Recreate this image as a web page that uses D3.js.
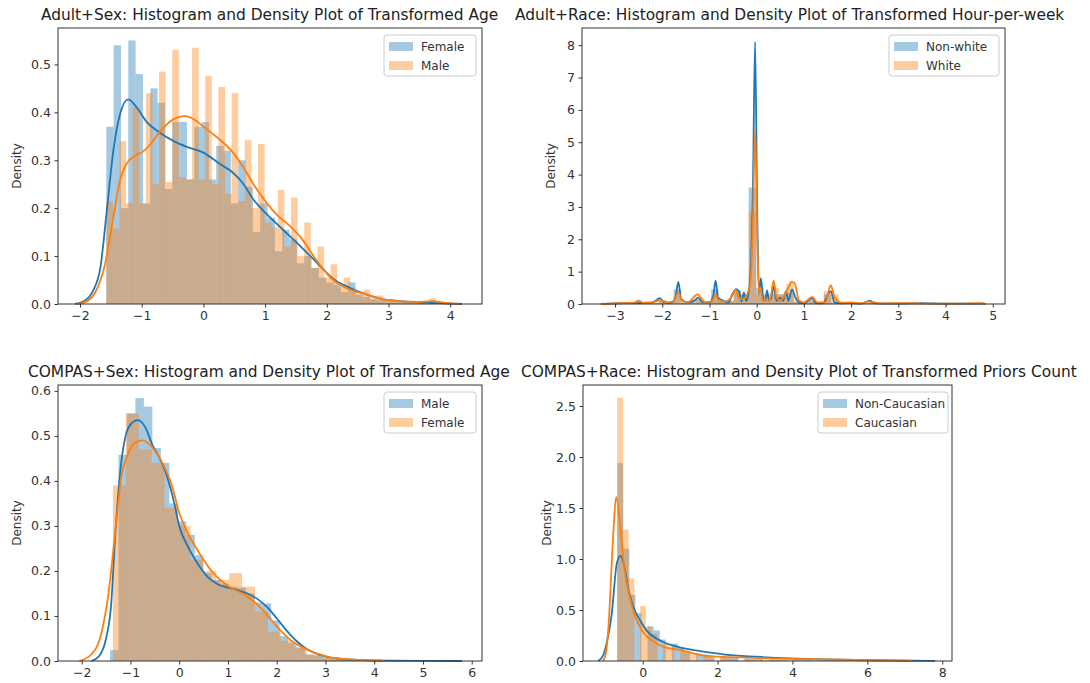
<!DOCTYPE html>
<html lang="en">
<head>
<meta charset="utf-8">
<title>histogram and density plots</title>
<script src="https://d3js.org/d3.v7.min.js"></script>
<style>
  body{margin:0;background:#fff;font-family:"DejaVu Sans",sans-serif;}
  .axis text{font-family:"DejaVu Sans",sans-serif;font-size:12.5px;fill:#333;}
  .axis path,.axis line{stroke:#333;}
  .title{font-size:15.4px;fill:#222;}
  .ylabel{font-size:12px;fill:#333;}
  .legend text{font-size:12px;fill:#333;}
</style>
</head>
<body>
<div id="chart"></div>
<script>
// ---- Adult + Sex : transformed age ----
var adultSexFemaleStart = -1.574, adultSexFemaleWidth = 0.1188
var adultSexFemaleHist = [0.37,0.54,0.2,0.55,0.48,0.21,0.45,0.42,0.24,0.38,
  0.38,0.26,0.37,0.38,0.26,0.33,0.32,0.21,0.30,0.245,
  0.15,0.21,0.18,0.11,0.155,0.135,0.085,0.10,0.075,0.055,
  0.045,0.04,0.025,0.045,0.02,0.015,0.01,0.008,0.006,0.004,
  0.004,0.002,0.003,0.002,0.002]
var adultSexMaleStart = -1.574, adultSexMaleWidth = 0.1069
var adultSexMaleHist = [0.214,0.157,0.34,0.21,0.41,0.21,0.44,0.25,0.485,0.255,
  0.53,0.265,0.26,0.535,0.26,0.476,0.25,0.453,0.23,0.44,
  0.215,0.342,0.2,0.334,0.17,0.16,0.238,0.12,0.222,0.1,
  0.17,0.075,0.12,0.055,0.083,0.035,0.055,0.025,0.02,0.03,
  0.012,0.018,0.008,0.01,0.004,0.006,0.003,0.004,0.002,0.012]
var adultSexFemaleKde = [[-2.08,0],[-1.95,0.005],[-1.85,0.015],[-1.78,0.03],[-1.67,0.076],[-1.57,0.19],[-1.46,0.32],
  [-1.35,0.397],[-1.22,0.427],[-1.08,0.41],[-0.92,0.38],[-0.70,0.357],[-0.48,0.34],[-0.27,0.328],[0.0,0.316],
  [0.27,0.292],[0.48,0.274],[0.64,0.252],[0.81,0.218],[1.03,0.187],[1.29,0.155],[1.57,0.121],[1.84,0.086],
  [2.1,0.053],[2.37,0.034],[2.64,0.02],[2.9,0.01],[3.2,0.006],[3.45,0.004],[3.8,0.002],[4.19,0]]
var adultSexMaleKde = [[-2.05,0],[-1.9,0.005],[-1.75,0.025],[-1.6,0.08],[-1.5,0.15],[-1.35,0.26],[-1.24,0.294],
  [-1.1,0.31],[-0.98,0.318],[-0.85,0.335],[-0.72,0.357],[-0.55,0.38],[-0.3,0.392],[-0.15,0.385],[0.0,0.37],
  [0.2,0.35],[0.48,0.316],[0.65,0.285],[0.81,0.25],[1.03,0.21],[1.2,0.185],[1.4,0.163],[1.57,0.14],[1.84,0.09],
  [2.1,0.05],[2.37,0.03],[2.64,0.02],[2.9,0.01],[3.2,0.006],[3.45,0.004],[3.7,0.006],[3.9,0.003],[4.15,0]]

// ---- Adult + Race : transformed hours-per-week ----
var adultRaceStart = -3.19, adultRaceWidth = 0.159
var adultRaceNonWhiteHist = [0.01,0.01,0.02,0.01,0.03,0.02,0.02,0.12,0.04,0.45,
  0.05,0.04,0.12,0.05,0.45,0.08,0.1,0.42,0.3,3.6,
  0.5,0.3,0.3,0.3,0.35,0.05,0.04,0.1,0.03,0.3,
  0.03,0.02,0.02,0.01,0.02,0.06,0.01,0.01,0.01,0.02,
  0.01,0.01,0.01,0.01,0.01,0.01,0.005,0.005,0.005,0.01]
var adultRaceWhiteHist = [0.01,0.01,0.02,0.02,0.06,0.03,0.03,0.1,0.05,0.25,
  0.06,0.08,0.2,0.06,0.25,0.06,0.1,0.35,0.25,2.86,
  0.3,0.12,0.5,0.3,0.62,0.1,0.05,0.15,0.05,0.4,
  0.3,0.03,0.02,0.02,0.03,0.06,0.02,0.01,0.01,0.02,
  0.02,0.01,0.01,0.01,0.01,0.01,0.01,0.01,0.01,0.02]
var adultRaceNonWhiteKde = [[-3.3,0],[-3.0,0.02],[-2.5,0.03],[-2.2,0.05],[-2.05,0.18],[-1.95,0.04],[-1.8,0.05],
  [-1.72,0.2],[-1.66,0.68],[-1.6,0.15],[-1.45,0.05],[-1.3,0.12],[-1.24,0.2],[-1.15,0.06],[-1.0,0.05],
  [-0.92,0.25],[-0.87,0.72],[-0.82,0.2],[-0.7,0.1],[-0.6,0.05],[-0.5,0.35],[-0.44,0.46],[-0.38,0.4],
  [-0.32,0.08],[-0.27,0.35],[-0.22,0.1],[-0.15,0.6],[-0.08,3.5],[-0.034,8.1],[0.01,3],[0.05,0.3],[0.09,0.8],
  [0.13,0.25],[0.18,0.1],[0.22,0.42],[0.26,0.1],[0.3,0.15],[0.36,0.55],[0.42,0.1],[0.5,0.2],[0.56,0.1],
  [0.62,0.4],[0.67,0.1],[0.75,0.45],[0.82,0.2],[0.9,0.05],[1.0,0.02],[1.18,0.18],[1.25,0.03],[1.4,0.02],
  [1.57,0.4],[1.65,0.05],[1.8,0.02],[2.0,0.03],[2.2,0.01],[2.4,0.1],[2.5,0.02],[3.0,0.01],[3.5,0.03],
  [4.0,0.01],[4.8,0.01],[4.85,0]]
var adultRaceWhiteKde = [[-3.3,0],[-3.0,0.02],[-2.6,0.04],[-2.5,0.1],[-2.4,0.04],[-2.2,0.05],[-2.05,0.12],
  [-1.9,0.05],[-1.75,0.1],[-1.66,0.35],[-1.58,0.1],[-1.45,0.06],[-1.25,0.3],[-1.1,0.06],[-0.95,0.08],
  [-0.87,0.3],[-0.8,0.08],[-0.65,0.08],[-0.5,0.3],[-0.45,0.45],[-0.38,0.2],[-0.3,0.15],[-0.15,0.5],
  [-0.08,2.5],[-0.034,5.4],[0.01,2.2],[0.05,0.3],[0.08,0.5],[0.13,0.1],[0.2,0.15],[0.28,0.1],[0.36,0.72],
  [0.42,0.2],[0.5,0.1],[0.62,0.35],[0.7,0.6],[0.73,0.68],[0.8,0.65],[0.9,0.1],[1.0,0.05],[1.18,0.22],
  [1.28,0.05],[1.45,0.05],[1.57,0.58],[1.65,0.2],[1.8,0.04],[2.0,0.05],[2.2,0.02],[2.4,0.08],[2.6,0.02],
  [3.2,0.03],[3.6,0.01],[4.2,0.01],[4.75,0.03],[4.85,0]]

// ---- COMPAS + Sex : transformed age ----
var compasSexMaleStart = -1.42, compasSexMaleWidth = 0.174
var compasSexMaleHist = [0.024,0.458,0.55,0.584,0.565,0.473,0.44,0.35,0.31,0.28,
  0.235,0.195,0.18,0.172,0.165,0.163,0.15,0.13,0.128,0.09,
  0.055,0.04,0.03,0.015,0.012,0.008,0.005,0.003,0.002,0.002,
  0.001,0.001,0.001,0.0005,0.0005,0.0005,0.0005,0.0005,0.0005,0.0005,0.0005]
var compasSexFemaleStart = -1.36, compasSexFemaleWidth = 0.265
var compasSexFemaleHist = [0.39,0.55,0.47,0.44,0.34,0.30,0.225,0.20,0.18,0.195,
  0.165,0.11,0.065,0.045,0.03,0.014,0.008,0.004,0.003,0.002,0.001]
var compasSexMaleKde = [[-1.8,0],[-1.65,0.01],[-1.5,0.05],[-1.4,0.12],[-1.3,0.3],[-1.2,0.43],[-1.1,0.5],
  [-1.0,0.525],[-0.85,0.535],[-0.7,0.52],[-0.55,0.48],[-0.4,0.45],[-0.25,0.41],[-0.1,0.35],[0.0,0.3],
  [0.15,0.26],[0.3,0.23],[0.45,0.205],[0.6,0.185],[0.8,0.17],[1.0,0.163],[1.2,0.157],[1.4,0.15],[1.6,0.138],
  [1.8,0.12],[2.0,0.095],[2.2,0.068],[2.4,0.045],[2.6,0.028],[2.8,0.017],[3.0,0.01],[3.3,0.005],[3.7,0.002],
  [4.2,0.001],[5.0,0.0005],[5.8,0]]
var compasSexFemaleKde = [[-2.05,0],[-1.8,0.015],[-1.6,0.06],[-1.45,0.15],[-1.3,0.3],[-1.2,0.4],[-1.05,0.46],
  [-0.9,0.485],[-0.75,0.49],[-0.6,0.48],[-0.45,0.46],[-0.3,0.43],[-0.15,0.39],[0.0,0.33],[0.15,0.29],
  [0.3,0.26],[0.5,0.225],[0.7,0.195],[0.9,0.175],[1.1,0.16],[1.3,0.15],[1.5,0.135],[1.7,0.115],[1.9,0.09],
  [2.1,0.065],[2.3,0.045],[2.5,0.032],[2.7,0.022],[2.9,0.014],[3.1,0.008],[3.4,0.004],[3.8,0.002],[4.2,0]]

// ---- COMPAS + Race : transformed priors count ----
var compasRaceNonCauStart = -0.68, compasRaceNonCauWidth = 0.162
var compasRaceNonCauHist = [1.94,1.10,0.65,0.47,0,0.34,0.30,0.21,0,0.17,
  0.13,0.10,0,0.075,0.065,0.05,0,0.045,0.035,0.03,
  0,0.025,0.02,0.02,0,0.015,0.013,0.012,0,0.01,
  0.008,0.008,0,0.006,0.006,0.005,0,0.004,0.004,0.003,
  0,0.003,0.003,0.002,0,0.002,0.002,0.002,0,0.002]
var compasRaceCauStart = -0.68, compasRaceCauWidth = 0.153
var compasRaceCauHist = [2.58,1.29,0.81,0,0.54,0.34,0.265,0,0.17,0.14,
  0,0.1,0.08,0.065,0,0.05,0.04,0,0.03,0.025,
  0.02,0,0.015,0.012,0,0.01,0.008,0.007,0,0.006,
  0.005,0.004,0,0.004,0.003,0,0.003,0.002,0.002,0,
  0.002,0.002,0,0.002,0.001,0.001,0,0.001,0.001,0.001]
var compasRaceNonCauKde = [[-1.19,0],[-1.05,0.06],[-0.96,0.18],[-0.83,0.45],[-0.69,0.96],[-0.6,1.03],
  [-0.51,0.96],[-0.38,0.70],[-0.25,0.53],[-0.07,0.40],[0.1,0.30],[0.37,0.22],[0.73,0.16],[1.26,0.113],
  [1.71,0.087],[2.15,0.065],[3.04,0.042],[3.93,0.026],[4.82,0.016],[5.7,0.01],[6.6,0.006],[7.8,0]]
var compasRaceCauKde = [[-1.06,0],[-0.98,0.08],[-0.92,0.3],[-0.78,1.28],[-0.71,1.61],[-0.62,1.4],[-0.51,0.96],
  [-0.33,0.6],[-0.16,0.40],[0.02,0.28],[0.29,0.19],[0.55,0.14],[0.91,0.113],[1.1,0.1],[1.3,0.08],
  [1.71,0.05],[2.6,0.035],[3.93,0.02],[5.0,0.015],[5.7,0.01],[7.2,0]]

var blue = "#1f77b4", orange = "#ff7f0e"

var svg = d3.select("#chart").append("svg").attr("width", 1090).attr("height", 683)

function toBins(start, width, heights){
    return heights.map(function(h, i){ return {x0: start + i*width, x1: start + (i+1)*width, h: h} })
}

function drawPanel(p){
    var x = d3.scaleLinear().domain(p.xDomain).range([p.left, p.right])
    var y = d3.scaleLinear().domain(p.yDomain).range([p.bottom, p.top])
    var g = svg.append("g")

    var series = [
        {bins: toBins(p.aStart, p.aWidth, p.aHist), kde: p.aKde, color: blue, label: p.labels[0]},
        {bins: toBins(p.bStart, p.bWidth, p.bHist), kde: p.bKde, color: orange, label: p.labels[1]}
    ]

    series.forEach(function(s){
        g.append("g").selectAll("rect")
            .data(s.bins.filter(function(d){ return d.h > 0 }))
            .enter().append("rect")
            .attr("x", function(d){ return x(d.x0) })
            .attr("width", function(d){ return x(d.x1) - x(d.x0) })
            .attr("y", function(d){ return y(d.h) })
            .attr("height", function(d){ return y(0) - y(d.h) })
            .attr("fill", s.color)
            .attr("fill-opacity", 0.4)
    })

    var line = d3.line()
        .x(function(d){ return x(d[0]) })
        .y(function(d){ return y(d[1]) })
        .curve(d3.curveMonotoneX)

    series.forEach(function(s){
        g.append("path").datum(s.kde)
            .attr("d", line)
            .attr("fill", "none")
            .attr("stroke", s.color)
            .attr("stroke-width", 1.8)
            .attr("stroke-linejoin", "round")
    })

    // frame
    g.append("rect")
        .attr("x", p.left).attr("y", p.top)
        .attr("width", p.right - p.left).attr("height", p.bottom - p.top)
        .attr("fill", "none").attr("stroke", "#333").attr("stroke-width", 1)

    g.append("g").attr("class", "axis")
        .attr("transform", "translate(0," + p.bottom + ")")
        .call(d3.axisBottom(x).tickValues(p.xTicks).tickSize(3.5).tickPadding(3.5).tickFormat(d3.format("d")))
        .call(function(a){ a.select(".domain").remove() })

    g.append("g").attr("class", "axis")
        .attr("transform", "translate(" + p.left + ",0)")
        .call(d3.axisLeft(y).tickValues(p.yTicks).tickSize(3.5).tickPadding(3.5).tickFormat(d3.format(p.yFormat)))
        .call(function(a){ a.select(".domain").remove() })

    // titles sit where they sit in the picture (left edge)
    g.append("text").attr("class", "title")
        .attr("x", p.titleX).attr("y", p.top - 8)
        .text(p.title)

    g.append("text").attr("class", "ylabel")
        .attr("transform", "translate(" + p.yLabelX + "," + ((p.top + p.bottom)/2) + ") rotate(-90)")
        .attr("text-anchor", "middle")
        .text("Density")

    // legend
    var lg = g.append("g").attr("class", "legend")
        .attr("transform", "translate(" + p.legendX + "," + (p.top + 7) + ")")
    lg.append("rect")
        .attr("width", p.legendW).attr("height", 41).attr("rx", 3)
        .attr("fill", "#fff").attr("fill-opacity", 0.8)
        .attr("stroke", "#ccc")
    series.forEach(function(s, i){
        lg.append("rect")
            .attr("x", 5).attr("y", 7 + i*19)
            .attr("width", 24).attr("height", 9)
            .attr("fill", s.color).attr("fill-opacity", 0.4)
        lg.append("text")
            .attr("x", 37).attr("y", 16 + i*19)
            .text(s.label)
    })
}

drawPanel({
    left: 58, right: 482, top: 28, bottom: 304,
    xDomain: [-2.357, 4.515], yDomain: [0, 0.576],
    xTicks: [-2, -1, 0, 1, 2, 3, 4], yTicks: [0, 0.1, 0.2, 0.3, 0.4, 0.5], yFormat: ".1f",
    title: "Adult+Sex: Histogram and Density Plot of Transformed Age", titleX: 41,
    labels: ["Female", "Male"], legendX: 384, legendW: 92, yLabelX: 21,
    aStart: adultSexFemaleStart, aWidth: adultSexFemaleWidth, aHist: adultSexFemaleHist, aKde: adultSexFemaleKde,
    bStart: adultSexMaleStart, bWidth: adultSexMaleWidth, bHist: adultSexMaleHist, bKde: adultSexMaleKde
})

drawPanel({
    left: 582, right: 1005, top: 28, bottom: 304,
    xDomain: [-3.70, 5.26], yDomain: [0, 8.53],
    xTicks: [-3, -2, -1, 0, 1, 2, 3, 4, 5], yTicks: [0, 1, 2, 3, 4, 5, 6, 7, 8], yFormat: "d",
    title: "Adult+Race: Histogram and Density Plot of Transformed Hour-per-week", titleX: 515,
    labels: ["Non-white", "White"], legendX: 889, legendW: 110, yLabelX: 555,
    aStart: adultRaceStart, aWidth: adultRaceWidth, aHist: adultRaceNonWhiteHist, aKde: adultRaceNonWhiteKde,
    bStart: adultRaceStart, bWidth: adultRaceWidth, bHist: adultRaceWhiteHist, bKde: adultRaceWhiteKde
})

drawPanel({
    left: 58, right: 482, top: 385, bottom: 661,
    xDomain: [-2.486, 6.211], yDomain: [0, 0.613],
    xTicks: [-2, -1, 0, 1, 2, 3, 4, 5, 6], yTicks: [0, 0.1, 0.2, 0.3, 0.4, 0.5, 0.6], yFormat: ".1f",
    title: "COMPAS+Sex: Histogram and Density Plot of Transformed Age", titleX: 28,
    labels: ["Male", "Female"], legendX: 384, legendW: 92, yLabelX: 21,
    aStart: compasSexMaleStart, aWidth: compasSexMaleWidth, aHist: compasSexMaleHist, aKde: compasSexMaleKde,
    bStart: compasSexFemaleStart, bWidth: compasSexFemaleWidth, bHist: compasSexFemaleHist, bKde: compasSexFemaleKde
})

drawPanel({
    left: 583, right: 952, top: 385, bottom: 661,
    xDomain: [-1.594, 8.26], yDomain: [0, 2.706],
    xTicks: [0, 2, 4, 6, 8], yTicks: [0, 0.5, 1.0, 1.5, 2.0, 2.5], yFormat: ".1f",
    title: "COMPAS+Race: Histogram and Density Plot of Transformed Priors Count", titleX: 521,
    labels: ["Non-Caucasian", "Caucasian"], legendX: 818, legendW: 130, yLabelX: 551,
    aStart: compasRaceNonCauStart, aWidth: compasRaceNonCauWidth, aHist: compasRaceNonCauHist, aKde: compasRaceNonCauKde,
    bStart: compasRaceCauStart, bWidth: compasRaceCauWidth, bHist: compasRaceCauHist, bKde: compasRaceCauKde
})
</script>
</body>
</html>
